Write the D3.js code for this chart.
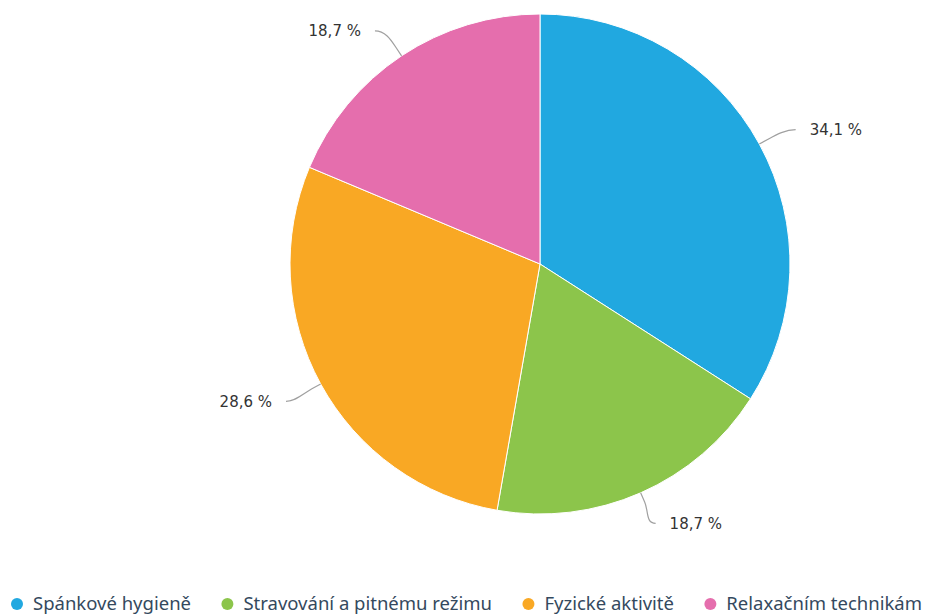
<!DOCTYPE html>
<html>
<head>
<meta charset="utf-8">
<script src="https://cdn.jsdelivr.net/npm/d3@7"></script>
<style>
  html, body { margin: 0; padding: 0; background: #fff; }
  svg { display: block; }
</style>
</head>
<body>
<svg id="chart" width="927" height="616"></svg>
<script>
// Share of answers per topic (%)
const categories = ["Spánkové hygieně", "Stravování a pitnému režimu", "Fyzické aktivitě", "Relaxačním technikám"];
const values = [34.1, 18.7, 28.6, 18.7];
const colors = ["#21a8e0", "#8cc54b", "#f9a824", "#e56ead"];

const width = 927, height = 616;
const cx = 540, cy = 264, radius = 250;
const labelDistance = 30;

const svg = d3.select("#chart");
const fmt = v => d3.format(".1f")(v).replace(".", ",") + " %";

const pie = d3.pie().sort(null).value(d => d.value);
const arc = d3.arc().innerRadius(0).outerRadius(radius);
const data = categories.map((c, i) => ({ name: c, value: values[i], color: colors[i] }));
const arcs = pie(data);

const g = svg.append("g").attr("transform", `translate(${cx},${cy})`);

g.selectAll("path.slice")
  .data(arcs)
  .join("path")
  .attr("class", "slice")
  .attr("d", arc)
  .attr("fill", d => d.data.color)
  .attr("stroke", "#fff")
  .attr("stroke-width", 1)
  .attr("stroke-linejoin", "round");

// Outside labels with soft connectors
const R = radius + labelDistance;
arcs.forEach(a => {
  const mid = (a.startAngle + a.endAngle) / 2;
  const sx = Math.sin(mid), sy = -Math.cos(mid);
  const side = sx >= 0 ? 1 : -1;
  const ly = R * sy + (sy > 0.3 ? 3 : 0);
  const lx = side * Math.sqrt(Math.max(0, R * R - ly * ly));
  const tx = radius * sx, ty = radius * sy;               // touching slice
  const bx = (radius + 10) * sx, by = (radius + 10) * sy; // break point
  const startX = lx + side * 10;
  const path = `M${startX},${ly} C${lx},${ly} ${2 * bx - tx},${2 * by - ty} ${bx},${by} L${tx},${ty}`;
  g.append("path")
    .attr("d", path)
    .attr("fill", "none")
    .attr("stroke", "#a0a0a0")
    .attr("stroke-width", 1.2);
  g.append("text")
    .attr("x", lx + side * 24)
    .attr("y", ly)
    .attr("dy", "0.35em")
    .attr("text-anchor", side > 0 ? "start" : "end")
    .attr("font-family", "DejaVu Sans, sans-serif")
    .attr("font-size", 15)
    .attr("fill", "#333")
    .text(fmt(a.data.value));
});

// Legend along the bottom, spread across the full width
const legend = svg.append("g").attr("transform", `translate(0,604)`);
const items = legend.selectAll("g.item").data(data).join("g").attr("class", "item");
items.append("circle").attr("r", 6).attr("cx", 0).attr("cy", 0).attr("fill", d => d.color);
items.append("text")
  .attr("x", 16)
  .attr("dy", "0.35em")
  .attr("font-family", "'Noto Sans', sans-serif")
  .attr("font-size", 18.5)
  .attr("fill", "#34495e")
  .text(d => d.name);

const widths = [];
items.each(function () {
  const t = d3.select(this).select("text").node();
  widths.push(16 + t.getComputedTextLength());
});
const left = 17, right = 922;
const gap = (right - left - d3.sum(widths)) / (widths.length - 1);
let x = left;
items.each(function (d, i) {
  d3.select(this).attr("transform", `translate(${x},0)`);
  x += widths[i] + gap;
});
</script>
</body>
</html>
